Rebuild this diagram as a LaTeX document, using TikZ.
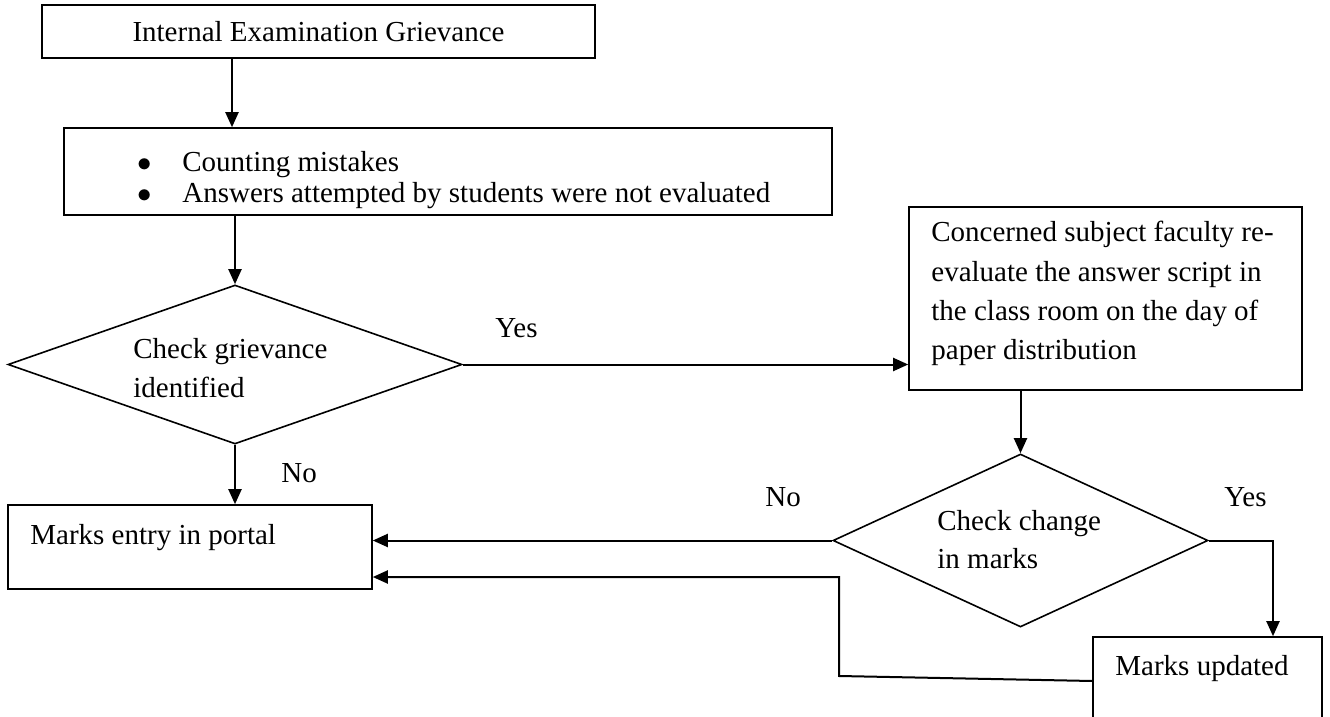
\documentclass[tikz,border=0pt]{standalone}
\usepackage{fontspec}
\setmainfont{Liberation Serif}
\usetikzlibrary{shapes.geometric,arrows.meta}
\begin{document}
\begin{tikzpicture}[x=0.5pt,y=-0.5pt,
  box/.style={draw,line width=0.8pt,rectangle,inner sep=0pt},
  dia/.style={draw,line width=0.8pt,diamond,inner sep=0pt},
  txt/.style={inner sep=0pt,anchor=base west},
  arr/.style={line width=1pt,-{Triangle[length=7.5pt,width=6.5pt]}},
  ln/.style={line width=1pt}]
\useasboundingbox (0,0) rectangle (1330,717);
\clip (0,0) rectangle (1330,717);
\fill[white] (0,0) rectangle (1330,717);
% shapes
\node[box,minimum width=276.5pt,minimum height=26.5pt,font=\fontsize{14.5}{17}\selectfont] (title) at (318.5,31.5) {Internal Examination Grievance};
\node[box,minimum width=384pt,minimum height=43.5pt] (list) at (448,171.5) {};
\node[dia,minimum width=227pt,minimum height=79.5pt] (d1) at (235,364.5) {};
\node[box,minimum width=196.5pt,minimum height=91.5pt] (rbox) at (1105.5,298.5) {};
\node[dia,minimum width=187.5pt,minimum height=86.5pt] (d2) at (1020.5,540.5) {};
\node[box,minimum width=182pt,minimum height=42pt] (entry) at (190,547) {};
\node[box,minimum width=114.5pt,minimum height=63pt] (upd) at (1207.5,700) {};
% texts
\node[txt,font=\fontsize{14.5}{15.5}\selectfont] (listtxt) at (137,172)
  {\begin{tabular}[t]{@{}l@{}l@{}}\makebox[22.5pt][l]{$\bullet$}&Counting mistakes\\
   \makebox[22.5pt][l]{$\bullet$}&Answers attempted by students were not evaluated\end{tabular}};
\node[txt,font=\fontsize{14.5}{19.5}\selectfont] (d1txt) at (133,358)
  {\begin{tabular}[t]{@{}l@{}}Check grievance\\identified\end{tabular}};
\node[txt,font=\fontsize{14.5}{19.65}\selectfont] (rtxt) at (931,242)
  {\begin{tabular}[t]{@{}l@{}}Concerned subject faculty re-\\evaluate the answer script in\\the class room on the day of\\paper distribution\end{tabular}};
\node[txt,font=\fontsize{14.5}{19}\selectfont] (d2txt) at (937,530)
  {\begin{tabular}[t]{@{}l@{}}Check change\\in marks\end{tabular}};
\node[txt,font=\fontsize{14.5}{17}\selectfont] (etxt) at (30,544) {Marks entry in portal};
\node[txt,font=\fontsize{14.5}{17}\selectfont] (utxt) at (1115,675) {Marks updated};
% labels
\node[txt,font=\fontsize{14.5}{17}\selectfont] (yes1) at (495,337) {Yes};
\node[txt,font=\fontsize{14.5}{17}\selectfont] (no1) at (281,482) {No};
\node[txt,font=\fontsize{14.5}{17}\selectfont] (no2) at (765,506) {No};
\node[txt,font=\fontsize{14.5}{17}\selectfont] (yes2) at (1224,506) {Yes};
% helper coordinates
\coordinate (c1) at (232,0);
\coordinate (k2) at (1273,600);
\coordinate (k4) at (0,681);
\coordinate (k3) at (839,676);
\coordinate (k5) at (839,577);
% connectors
\draw[arr] (title.south -| c1) -- (list.north -| c1);
\draw[arr] (list.south -| d1.north) -- (d1.north);
\draw[arr] (d1.east) -- (d1.east -| rbox.west);
\draw[arr] (rbox.south -| d2.north) -- (d2.north);
\draw[arr] (d1.south) -- (d1.south |- entry.north);
\draw[arr] (d2.west) -- (d2.west -| entry.east);
\draw[arr] (d2.east) -| (k2 |- upd.north);
\draw[arr] (upd.west |- k4) -- (k3) -- (k5) -- (k5 -| entry.east);
\end{tikzpicture}
\end{document}
